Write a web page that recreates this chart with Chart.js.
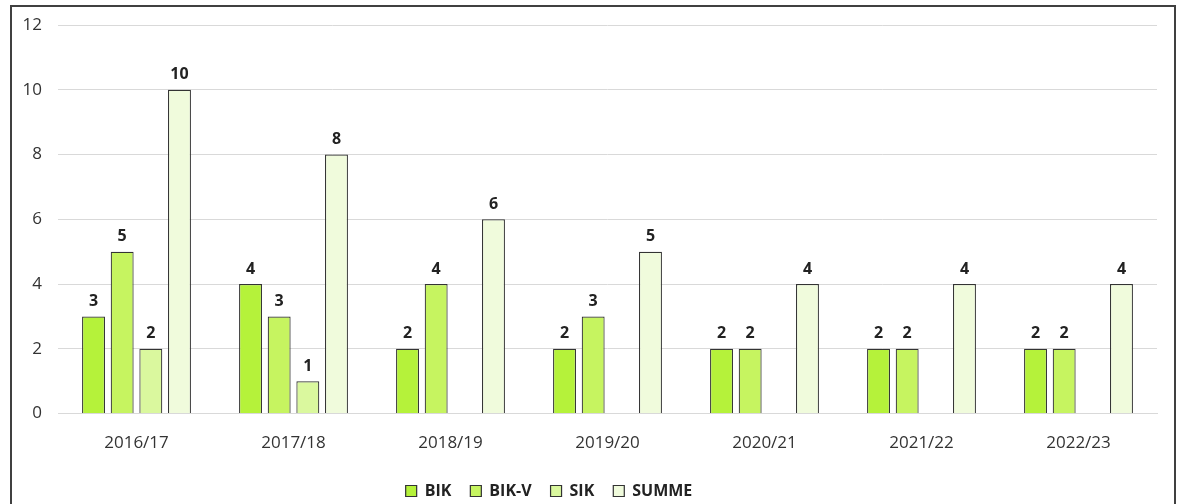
<!DOCTYPE html>
<html>
<head>
<meta charset="utf-8">
<script src="https://cdn.jsdelivr.net/npm/chart.js@4"></script>
<style>
  html, body { margin: 0; padding: 0; background: #fff; overflow: hidden; }
  #box {
    position: absolute; left: 10px; top: 5px;
    width: 1166px; height: 520px;
    border: 2px solid #404040;
    box-sizing: border-box;
  }
  #wrap { position: absolute; left: 0; top: 0; width: 1162px; height: 502px; }
</style>
</head>
<body>
<div id="box"><div id="wrap"><canvas id="chart"></canvas></div></div>
<script>
const years = ["2016/17", "2017/18", "2018/19", "2019/20", "2020/21", "2021/22", "2022/23"];
const bik = [3, 4, 2, 2, 2, 2, 2];
const bikV = [5, 3, 4, 3, 2, 2, 2];
const sik = [2, 1, null, null, null, null, null];
const summe = [10, 8, 6, 5, 4, 4, 4];

const fontFam = "'Open Sans', 'Noto Sans', sans-serif";

// Werte über den Balken
const barLabels = {
  id: "barLabels",
  afterDatasetsDraw(chart) {
    const ctx = chart.ctx;
    ctx.save();
    ctx.font = "bold 16px " + fontFam;
    ctx.fillStyle = "#222";
    ctx.textAlign = "center";
    ctx.textBaseline = "bottom";
    chart.data.datasets.forEach((ds, i) => {
      chart.getDatasetMeta(i).data.forEach((bar, j) => {
        const v = ds.data[j];
        if (v == null) return;
        ctx.fillText(v, bar.x, bar.y - 7);
      });
    });
    ctx.restore();
  }
};

// Legende etwas nach links, wie im Original
const legendShift = {
  id: "legendShift",
  afterLayout(chart) {
    if (!chart.legend) return;
    chart.legend.left -= 40;
    chart.legend.right -= 40;
  }
};

const mk = (label, data, color) => ({
  label, data,
  backgroundColor: color,
  borderColor: "#333",
  borderWidth: 1.2,
  barPercentage: 0.8,
  categoryPercentage: 0.73
});

new Chart(document.getElementById("chart"), {
  type: "bar",
  data: {
    labels: years,
    datasets: [
      mk("BIK", bik, "#b5f23a"),
      mk("BIK-V", bikV, "#c6f460"),
      mk("SIK", sik, "#daf89e"),
      mk("SUMME", summe, "#f0fbdc")
    ]
  },
  options: {
    responsive: true,
    maintainAspectRatio: false,
    animation: false,
    layout: { padding: { left: 9, right: 17, top: 18, bottom: 0 } },
    plugins: {
      legend: {
        position: "bottom",
        labels: {
          font: { family: fontFam, size: 16, weight: "bold" },
          color: "#222",
          boxWidth: 11,
          boxHeight: 11,
          padding: 19
        }
      },
      tooltip: { enabled: false }
    },
    scales: {
      x: {
        grid: { display: false },
        border: { color: "#d9d9d9", width: 1 },
        ticks: { font: { family: fontFam, size: 17 }, color: "#333", padding: 11 }
      },
      y: {
        min: 0, max: 12,
        afterFit: (s) => { s.width = 37; s.paddingTop = 0; },
        ticks: { stepSize: 2, font: { family: fontFam, size: 17 }, color: "#333", padding: 16 },
        grid: { color: "#d9d9d9", drawTicks: false },
        border: { display: false }
      }
    }
  },
  plugins: [barLabels, legendShift]
});
</script>
</body>
</html>
